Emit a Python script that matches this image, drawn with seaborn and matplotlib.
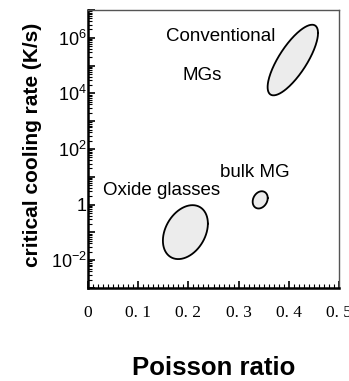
import numpy as np
import matplotlib
matplotlib.use("Agg")
import matplotlib.pyplot as plt
import seaborn as sns
from matplotlib.ticker import FixedLocator, FixedFormatter, LogLocator, MultipleLocator

# ---- data ----
regions = ["Conventional MGs", "bulk MG", "Oxide glasses"]
poisson_center = [0.408, 0.343, 0.194]        # Poisson ratio at region centre
log_rate_center = [5.2, 0.17, -0.99]           # log10 critical cooling rate (K/s)
poisson_halfrange = [0.0502, 0.0150, 0.0448]   # half spread in Poisson ratio
log_rate_halfrange = [1.27, 0.31, 0.97]        # half spread in log10 rate
tilt_phase_deg = [40.0, 77.6, 71.5]            # phase between the two spreads

label_texts = ["Conventional", "MGs", "Oxide glasses", "bulk MG"]
label_x = [0.265, 0.227, 0.147, 0.332]
label_log_y = [6.03, 4.63, 0.52, 1.17]

xtick_vals = [0, 0.1, 0.2, 0.3, 0.4, 0.5]
xtick_labels = ["0", "0. 1", "0. 2", "0. 3", "0. 4", "0. 5"]
ytick_exp = [-2, 0, 2, 4, 6]
ytick_labels = ["$10^{-2}$", "1", "$10^{2}$", "$10^{4}$", "$10^{6}$"]

sns.set_theme(style="ticks")
plt.rcParams["font.family"] = ["Liberation Sans", "DejaVu Sans"]
plt.rcParams["mathtext.fontset"] = "custom"
plt.rcParams["mathtext.rm"] = "Liberation Sans"
plt.rcParams["mathtext.it"] = "Liberation Sans"
plt.rcParams["mathtext.default"] = "regular"
for k in ["text.color", "axes.labelcolor", "xtick.color", "ytick.color"]:
    plt.rcParams[k] = "black"

fig = plt.figure(figsize=(3.49, 3.81), dpi=100)
ax = fig.add_axes([88/349, 1-288/381, 251/349, 278/381])
ax.set_yscale("log")
ax.set_xlim(0, 0.5)
ax.set_ylim(1e-3, 1e7)

t = np.linspace(0, 2*np.pi, 200)
for name, cx, cy, hx, hy, ph in zip(regions, poisson_center, log_rate_center,
                                     poisson_halfrange, log_rate_halfrange, tilt_phase_deg):
    xs = cx + hx*np.cos(t)
    ys = 10**(cy + hy*np.cos(t - np.deg2rad(ph)))
    ax.fill(xs, ys, color="#ececec", zorder=1)
    sns.lineplot(x=xs, y=ys, sort=False, estimator=None, color="black",
                 linewidth=1.3, ax=ax, zorder=2)

for txt, lx, ly in zip(label_texts, label_x, label_log_y):
    ax.text(lx, 10**ly, txt, ha="center", va="center", fontsize=13.5,
            family=["Liberation Sans", "DejaVu Sans"], color="black")

# ticks
ax.xaxis.set_major_locator(FixedLocator(xtick_vals))
ax.xaxis.set_major_formatter(FixedFormatter(xtick_labels))
ax.xaxis.set_minor_locator(MultipleLocator(0.01))
major_y = [10.0**e for e in range(-3, 8)]
ax.yaxis.set_major_locator(FixedLocator(major_y))
lab = []
for e in range(-3, 8):
    if e in ytick_exp:
        lab.append(ytick_labels[ytick_exp.index(e)])
    else:
        lab.append("")
ax.yaxis.set_major_formatter(FixedFormatter(lab))
ax.yaxis.set_minor_locator(LogLocator(base=10, subs=np.arange(2, 10), numticks=50))
ax.yaxis.set_minor_formatter(FixedFormatter([]))

ax.tick_params(axis="both", which="both", direction="in", top=False, right=False,
               color="black", labelcolor="black")
ax.tick_params(axis="y", which="major", length=5, width=1.2, labelsize=13, pad=1)
ax.tick_params(axis="y", which="minor", length=3, width=0.8)
ax.tick_params(axis="x", which="major", length=5, width=1.2, pad=12)
ax.tick_params(axis="x", which="minor", length=3, width=0.8)
for lbl in ax.get_xticklabels():
    lbl.set_family(["Liberation Serif", "DejaVu Serif"])
    lbl.set_fontsize(12.5)

for s in ["left", "bottom"]:
    ax.spines[s].set_linewidth(1.8)
    ax.spines[s].set_color("black")
for s in ["top", "right"]:
    ax.spines[s].set_linewidth(1.0)
    ax.spines[s].set_color("#555555")

ax.set_xlabel("Poisson ratio", fontsize=18.5, fontweight="bold", color="black")
ax.xaxis.label.set_va("baseline")
ax.xaxis.set_label_coords(0.502, -(375-288)/278)
ax.set_ylabel("critical cooling rate (K/s)", fontsize=15, fontweight="bold", color="black")
ax.yaxis.label.set_va("center")
ax.yaxis.set_label_coords(-(88-33)/251, (288-145)/278)

fig.savefig("out.png", dpi=100)
